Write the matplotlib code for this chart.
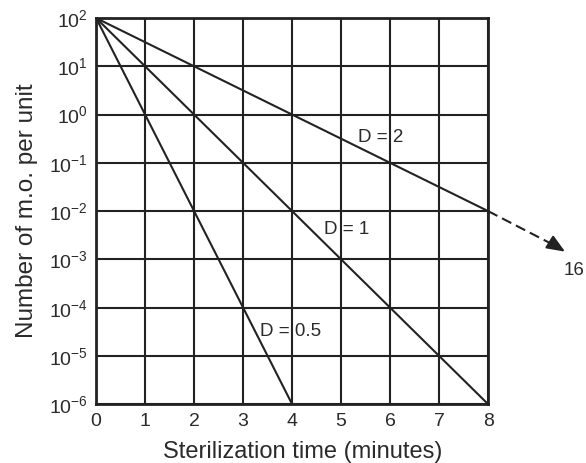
import matplotlib
matplotlib.use("Agg")
import matplotlib.pyplot as plt

plt.rcParams['font.family'] = ['Liberation Sans', 'DejaVu Sans']
plt.rcParams['mathtext.fontset'] = 'custom'
plt.rcParams['mathtext.rm'] = 'Liberation Sans'
plt.rcParams['mathtext.it'] = 'Liberation Sans:italic'

ink = '#222222'
txt_ink = '#2a2a2a'

# line end points
t_d05 = [0, 4]
n_d05 = [1e2, 1e-6]
t_d1 = [0, 8]
n_d1 = [1e2, 1e-6]
t_d2 = [0, 8]
n_d2 = [1e2, 1e-2]
t_ext = [8, 9.45]
n_ext = [1e-2, 10 ** -2.76]
t_tip = 9.57
n_tip = 10 ** -2.84

x_ticks = [0, 1, 2, 3, 4, 5, 6, 7, 8]
y_exps = [-6, -5, -4, -3, -2, -1, 0, 1, 2]

labels = [("D = 2", 5.8, 10 ** -0.47),
          ("D = 1", 5.12, 10 ** -2.38),
          ("D = 0.5", 3.96, 10 ** -4.5)]

fig = plt.figure(figsize=(5.86, 4.63), dpi=100)
ax = fig.add_axes([0.164, 0.127, 0.669, 0.834])

ax.set_yscale('log')
ax.set_xlim(0, 8)
ax.set_ylim(1e-6, 1e2)

ax.set_xticks(x_ticks)
ax.set_yticks([10.0 ** e for e in y_exps])
ax.set_yticklabels([r'$10^{%d}$' % e for e in y_exps])
ax.minorticks_off()
ax.tick_params(length=0, labelsize=14, colors=txt_ink, pad=6)
ax.grid(True, color=ink, lw=1.5)
ax.set_axisbelow(True)
for s in ax.spines.values():
    s.set_color(ink)
    s.set_linewidth(2)

for t, n in [(t_d05, n_d05), (t_d1, n_d1), (t_d2, n_d2)]:
    ax.plot(t, n, color=ink, lw=1.5)

ax.plot(t_ext, n_ext, color=ink, lw=1.5, ls=(0, (5, 2.5)), clip_on=False)
ax.annotate('', xy=(t_tip, n_tip), xytext=(t_ext[1] - 0.05, n_ext[1] * 10 ** 0.028),
            arrowprops=dict(arrowstyle='-|>,head_length=1.1,head_width=0.45',
                            color=ink, lw=1.5, shrinkA=0, shrinkB=0),
            annotation_clip=False)
ax.text(9.75, 10 ** -3.22, '16', fontsize=13.5, color=txt_ink, ha='center', va='center',
        clip_on=False)

for txt, x, y in labels:
    ax.text(x, y, txt, fontsize=13.5, color=txt_ink, ha='center', va='center')

ax.set_xlabel('Sterilization time (minutes)', fontsize=17, color=txt_ink, labelpad=8)
ax.xaxis.label.set_x(0.528)
ax.set_ylabel('Number of m.o. per unit', fontsize=17.5, color=txt_ink, labelpad=8)

fig.savefig('out.png', dpi=100)
